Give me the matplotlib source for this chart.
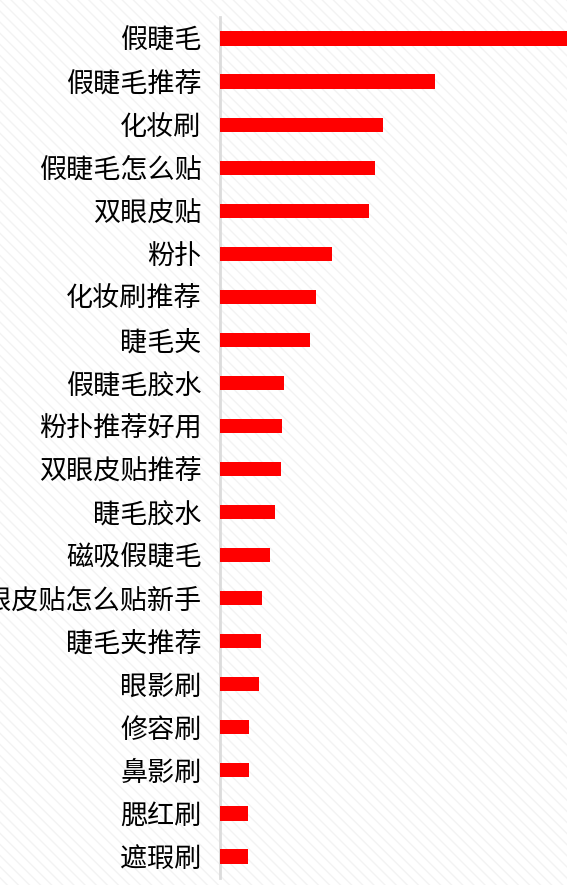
"""Horizontal bar chart of beauty-tool search keywords."""
import matplotlib
matplotlib.use("Agg")
import matplotlib.pyplot as plt
from matplotlib.patches import Rectangle

plt.rcParams["font.family"] = ["Noto Sans CJK SC", "DejaVu Sans"]
plt.rcParams["hatch.linewidth"] = 1.0
plt.rcParams["hatch.color"] = "#f3f3f3"

keywords = [
    "假睫毛", "假睫毛推荐", "化妆刷", "假睫毛怎么贴", "双眼皮贴",
    "粉扑", "化妆刷推荐", "睫毛夹", "假睫毛胶水", "粉扑推荐好用",
    "双眼皮贴推荐", "睫毛胶水", "磁吸假睫毛", "双眼皮贴怎么贴新手", "睫毛夹推荐",
    "眼影刷", "修容刷", "鼻影刷", "腮红刷", "遮瑕刷",
]
# relative search volume
volume = [
    347, 214.7, 163.3, 155, 149.7,
    112, 96.7, 90.7, 64, 62.7,
    61, 55.7, 50, 42.3, 41.3,
    39.7, 29, 29, 28.3, 28,
]

W, H = 567, 885
fig = plt.figure(figsize=(W / 100, H / 100), dpi=100)
fig.patch.set_facecolor("white")
fig.add_artist(Rectangle((0, 0), 1, 1, transform=fig.transFigure,
                         facecolor="white", edgecolor="#f3f3f3",
                         hatch="\\\\\\", linewidth=0, zorder=-10))

ax = fig.add_axes([219.5 / W, 7 / H, (W - 219.5) / W, 861 / H])
ax.set_facecolor("none")

pos = list(range(len(keywords)))
ax.barh(pos, volume, height=0.33, color="#ff0000", zorder=3)

ax.set_ylim(len(keywords) - 0.5, -0.5)
ax.set_xlim(0, max(volume))
ax.set_yticks(pos)
ax.set_yticklabels(keywords, fontsize=19.5, color="black")
ax.tick_params(axis="y", length=0, pad=13)
ax.set_xticks([])

for side in ("top", "right", "bottom"):
    ax.spines[side].set_visible(False)
ax.spines["left"].set_color("#dcdcdc")
ax.spines["left"].set_linewidth(2)

fig.savefig("out.png", dpi=100)
